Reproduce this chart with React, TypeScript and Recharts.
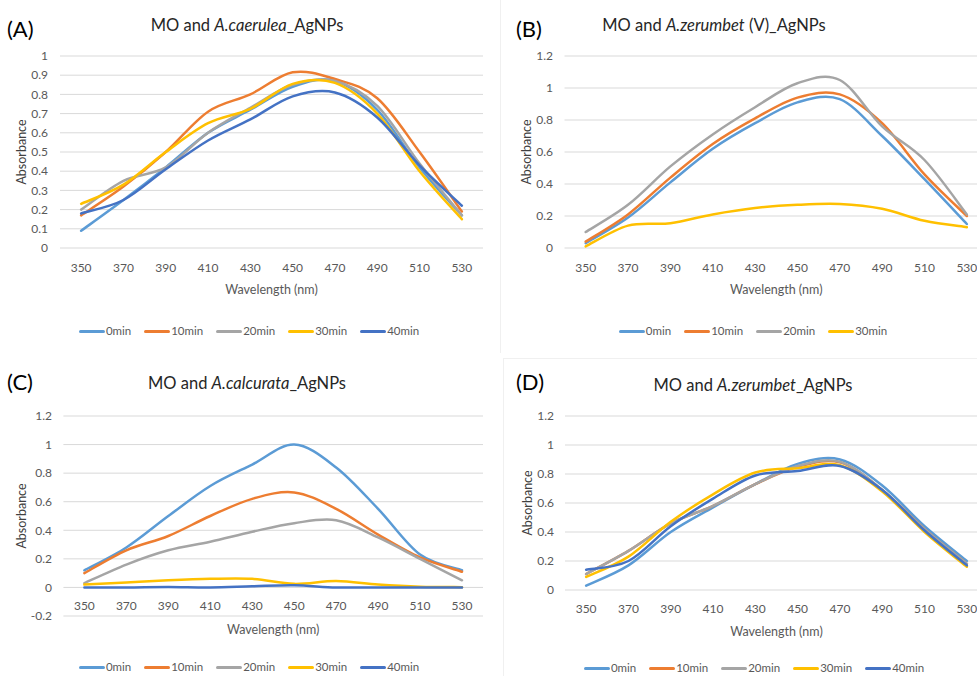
import React from "react";
import {
  CartesianGrid,
  Label,
  Legend,
  Line,
  LineChart,
  XAxis,
  YAxis,
} from "recharts";

const wavelengths = [350, 370, 390, 410, 430, 450, 470, 490, 510, 530];
const timeLabels = ["0min", "10min", "20min", "30min", "40min"];
const lineColors = ["#5B9BD5", "#ED7D31", "#A5A5A5", "#FFC000", "#4472C4"];

// (A) A.caerulea
const caerulea0 = [0.09, 0.25, 0.42, 0.6, 0.72, 0.84, 0.87, 0.72, 0.42, 0.17];
const caerulea10 = [0.17, 0.32, 0.5, 0.71, 0.8, 0.915, 0.88, 0.78, 0.5, 0.19];
const caerulea20 = [0.2, 0.35, 0.42, 0.6, 0.73, 0.85, 0.87, 0.74, 0.44, 0.17];
const caerulea30 = [0.23, 0.33, 0.5, 0.65, 0.725, 0.855, 0.86, 0.7, 0.4, 0.15];
const caerulea40 = [0.18, 0.25, 0.41, 0.56, 0.67, 0.79, 0.81, 0.68, 0.43, 0.22];

// (B) A.zerumbet (V)
const zerumbetV0 = [0.03, 0.19, 0.41, 0.62, 0.78, 0.91, 0.93, 0.7, 0.43, 0.15];
const zerumbetV10 = [0.04, 0.21, 0.44, 0.65, 0.81, 0.94, 0.96, 0.78, 0.46, 0.2];
const zerumbetV20 = [0.1, 0.27, 0.51, 0.71, 0.88, 1.03, 1.05, 0.76, 0.55, 0.21];
const zerumbetV30 = [0.01, 0.14, 0.155, 0.21, 0.25, 0.27, 0.275, 0.245, 0.17, 0.13];

// (C) A.calcurata
const calcurata0 = [0.12, 0.28, 0.5, 0.71, 0.86, 1.0, 0.84, 0.55, 0.23, 0.12];
const calcurata10 = [0.1, 0.26, 0.36, 0.5, 0.62, 0.665, 0.55, 0.37, 0.21, 0.11];
const calcurata20 = [0.03, 0.16, 0.26, 0.32, 0.39, 0.45, 0.47, 0.35, 0.2, 0.05];
const calcurata30 = [0.02, 0.035, 0.05, 0.06, 0.06, 0.025, 0.045, 0.02, 0.005, 0.002];
const calcurata40 = [0, 0, 0.003, 0, 0.008, 0.015, 0, 0, 0, 0];

// (D) A.zerumbet
const zerumbet0 = [0.03, 0.17, 0.4, 0.57, 0.73, 0.87, 0.9, 0.72, 0.44, 0.2];
const zerumbet10 = [0.11, 0.27, 0.46, 0.58, 0.73, 0.85, 0.88, 0.69, 0.42, 0.18];
const zerumbet20 = [0.11, 0.27, 0.46, 0.58, 0.73, 0.855, 0.885, 0.69, 0.42, 0.18];
const zerumbet30 = [0.09, 0.23, 0.47, 0.66, 0.81, 0.84, 0.86, 0.68, 0.4, 0.16];
const zerumbet40 = [0.14, 0.2, 0.44, 0.63, 0.79, 0.82, 0.855, 0.69, 0.41, 0.17];

const ticksTenth = [0, 0.1, 0.2, 0.3, 0.4, 0.5, 0.6, 0.7, 0.8, 0.9, 1];
const ticksFifth = [0, 0.2, 0.4, 0.6, 0.8, 1, 1.2];
const ticksFifthNeg = [-0.2, 0, 0.2, 0.4, 0.6, 0.8, 1, 1.2];

const textGray = "#595959";

// Excel-style smoothed line (Catmull-Rom as cubic Bezier)
const excelSmooth = (context: any) => {
  let pts: number[][] = [];
  return {
    areaStart() {},
    areaEnd() {},
    lineStart() {
      pts = [];
    },
    point(x: number, y: number) {
      pts.push([+x, +y]);
    },
    lineEnd() {
      if (!pts.length) return;
      context.moveTo(pts[0][0], pts[0][1]);
      for (let i = 0; i < pts.length - 1; i++) {
        const p0 = pts[i - 1] || pts[i];
        const p1 = pts[i];
        const p2 = pts[i + 1];
        const p3 = pts[i + 2] || p2;
        context.bezierCurveTo(
          p1[0] + (p2[0] - p0[0]) / 6,
          p1[1] + (p2[1] - p0[1]) / 6,
          p2[0] - (p3[0] - p1[0]) / 6,
          p2[1] - (p3[1] - p1[1]) / 6,
          p2[0],
          p2[1],
        );
      }
    },
  };
};

function buildRows(series: number[][]) {
  return wavelengths.map((wl, i) => {
    const row: Record<string, number> = { wl };
    series.forEach((s, k) => {
      row[timeLabels[k]] = s[i];
    });
    return row;
  });
}

const fmt = (v: number) => String(Math.round(v * 10) / 10);

const LegendRow = ({ payload }: any) => (
  <div
    style={{
      display: "flex",
      justifyContent: "center",
      gap: 13,
      fontSize: 11.5,
      color: textGray,
      lineHeight: "14px",
    }}
  >
    {(payload ?? []).map((p: any) => (
      <span key={p.value} style={{ display: "inline-flex", alignItems: "center" }}>
        <span
          style={{
            display: "inline-block",
            width: 26,
            height: 3,
            borderRadius: 1.5,
            background: p.color,
            marginRight: 1,
          }}
        />
        {p.value}
      </span>
    ))}
  </div>
);

type PanelProps = {
  left: number;
  top: number;
  width: number;
  height: number;
  margin: { top: number; right: number; bottom: number; left: number };
  yWidth: number;
  yDomain: [number, number];
  yTicks: number[];
  yTickMargin: number;
  yLabelOffset: number;
  xHeight: number;
  xTickMargin: number;
  xLabelOffset: number;
  xTickShift: number;
  series: number[][];
  legendTop: number;
  legendCenter: number;
};

function Panel(p: PanelProps) {
  const rows = buildRows(p.series);
  return (
    <div style={{ position: "absolute", left: p.left, top: p.top }}>
      <LineChart width={p.width} height={p.height} data={rows} margin={p.margin}>
        <CartesianGrid vertical={false} stroke="#D9D9D9" />
        <XAxis
          dataKey="wl"
          type="category"
          scale="band"
          interval={0}
          height={p.xHeight}
          tickLine={false}
          axisLine={false}
          tickMargin={p.xTickMargin}
          tick={(t: any) => (
            <text
              x={t.x}
              y={t.y - p.xTickShift}
              dy="0.71em"
              textAnchor="middle"
              fill={textGray}
              fontSize={12}
            >
              {t.payload.value}
            </text>
          )}
        >
          <Label
            value="Wavelength (nm)"
            position="insideBottom"
            offset={p.xLabelOffset}
            style={{ fill: textGray, fontSize: 12.5 }}
          />
        </XAxis>
        <YAxis
          type="number"
          width={p.yWidth}
          domain={p.yDomain}
          ticks={p.yTicks}
          interval={0}
          tickLine={false}
          axisLine={false}
          tickMargin={p.yTickMargin}
          tickFormatter={fmt}
          tick={{ fill: textGray, fontSize: 12 }}
        >
          <Label
            value="Absorbance"
            angle={-90}
            position="insideLeft"
            offset={p.yLabelOffset}
            style={{ fill: "#404040", fontSize: 12.5, textAnchor: "middle" }}
          />
        </YAxis>
        <Legend
          verticalAlign="middle"
          align="center"
          layout="horizontal"
          content={<LegendRow />}
          wrapperStyle={{
            top: p.legendTop,
            left: p.legendCenter - p.left - 200,
            width: 400,
          }}
        />
        {p.series.map((_, k) => (
          <Line
            key={timeLabels[k]}
            dataKey={timeLabels[k]}
            name={timeLabels[k]}
            type={excelSmooth as any}
            stroke={lineColors[k]}
            strokeWidth={2.5}
            strokeLinecap="round"
            dot={false}
            activeDot={false}
            isAnimationActive={false}
          />
        ))}
      </LineChart>
    </div>
  );
}

const Title = ({ x, y, pre, species, post }: any) => (
  <div
    style={{
      position: "absolute",
      left: x,
      top: y - 11,
      transform: "translateX(-50%)",
      whiteSpace: "nowrap",
      fontSize: 16.5,
      lineHeight: "22px",
      color: "#262626",
    }}
  >
    {pre}
    <i>{species}</i>
    {post}
  </div>
);

const PanelTag = ({ x, y, text }: any) => (
  <div
    style={{
      position: "absolute",
      left: x,
      top: y - 14,
      fontSize: 22,
      lineHeight: "28px",
      color: "#000",
    }}
  >
    {text}
  </div>
);

export default function App() {
  return (
    <div
      style={{
        position: "absolute",
        left: 0,
        top: 0,
        width: 977,
        height: 676,
        overflow: "hidden",
        background: "#fff",
        fontFamily: "Lato, 'Open Sans', sans-serif",
      }}
    >
      <div style={{ position: "absolute", left: 500, top: 0, width: 0, height: 353, borderLeft: "1px solid #F0F0F0" }} />
      <div style={{ position: "absolute", left: 503, top: 358, width: 480, height: 330, borderLeft: "1px solid #F0F0F0", borderTop: "1px solid #F0F0F0" }} />

      <Panel
        left={0}
        top={0}
        width={490}
        height={340}
        margin={{ top: 56, right: 7, bottom: 42, left: 0 }}
        yWidth={60}
        yDomain={[0, 1]}
        yTicks={ticksTenth}
        yTickMargin={6}
        yLabelOffset={22}
        xHeight={50}
        xTickMargin={9}
        xLabelOffset={4}
        xTickShift={0}
        series={[caerulea0, caerulea10, caerulea20, caerulea30, caerulea40]}
        legendTop={324}
        legendCenter={249}
      />
      <Panel
        left={500}
        top={0}
        width={500}
        height={340}
        margin={{ top: 56, right: 12, bottom: 42, left: 0 }}
        yWidth={64.5}
        yDomain={[0, 1.2]}
        yTicks={ticksFifth}
        yTickMargin={5.5}
        yLabelOffset={27}
        xHeight={50}
        xTickMargin={9}
        xLabelOffset={4}
        xTickShift={0}
        series={[zerumbetV0, zerumbetV10, zerumbetV20, zerumbetV30]}
        legendTop={324}
        legendCenter={753}
      />
      <Panel
        left={0}
        top={340}
        width={490}
        height={336}
        margin={{ top: 76, right: 7, bottom: 30, left: 0 }}
        yWidth={63.4}
        yDomain={[-0.2, 1.2]}
        yTicks={ticksFifthNeg}
        yTickMargin={5.4}
        yLabelOffset={22}
        xHeight={30}
        xTickMargin={8}
        xLabelOffset={12.5}
        xTickShift={28.6}
        series={[calcurata0, calcurata10, calcurata20, calcurata30, calcurata40]}
        legendTop={320}
        legendCenter={249}
      />
      <Panel
        left={500}
        top={340}
        width={500}
        height={336}
        margin={{ top: 76, right: 12, bottom: 36, left: 0 }}
        yWidth={65}
        yDomain={[0, 1.2]}
        yTicks={ticksFifth}
        yTickMargin={5}
        yLabelOffset={28}
        xHeight={50}
        xTickMargin={8}
        xLabelOffset={4}
        xTickShift={0}
        series={[zerumbet0, zerumbet10, zerumbet20, zerumbet30, zerumbet40]}
        legendTop={321}
        legendCenter={754}
      />

      <PanelTag x={7} y={29} text="(A)" />
      <PanelTag x={516} y={29} text="(B)" />
      <PanelTag x={7} y={382} text="(C)" />
      <PanelTag x={516} y={382} text="(D)" />

      <Title x={247} y={25} pre="MO and " species="A.caerulea" post="_AgNPs" />
      <Title x={714} y={25} pre="MO and " species="A.zerumbet" post=" (V)_AgNPs" />
      <Title x={247} y={383} pre="MO and " species="A.calcurata" post="_AgNPs" />
      <Title x={753} y={385} pre="MO and " species="A.zerumbet" post="_AgNPs" />
    </div>
  );
}
